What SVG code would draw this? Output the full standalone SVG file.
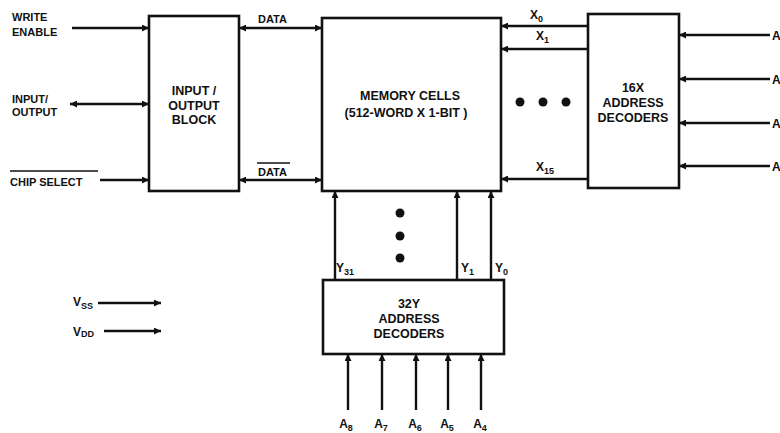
<svg xmlns="http://www.w3.org/2000/svg" width="780" height="433" viewBox="0 0 780 433">
<style>
.box{fill:#fff;stroke:#111;stroke-width:2.6}
.w{stroke:#111;stroke-width:2.4;fill:none}
.t{font-family:"Liberation Sans",Arial,sans-serif;font-weight:bold;font-size:11px;fill:#111}
.b{font-size:12.5px}
.m{font-size:12px}
.c{text-anchor:middle}
.s{font-size:9px}
.dot{fill:#111}
</style>
<defs>
<marker id="ah" viewBox="0 0 10 10" refX="10" refY="5" markerWidth="9" markerHeight="7" markerUnits="userSpaceOnUse" orient="auto-start-reverse">
<path d="M0,0 L10,5 L0,10 z" fill="#111"/>
</marker>
</defs>
<rect width="780" height="433" fill="#fff"/>

<g id="io-block">
<rect class="box" x="149" y="16" width="90" height="175"/>
<text class="t b c" x="194" y="95">INPUT /</text>
<text class="t b c" x="194" y="110">OUTPUT</text>
<text class="t b c" x="194" y="124">BLOCK</text>
</g>

<g id="memory-cells">
<rect class="box" x="322" y="18" width="179" height="173"/>
<text class="t b c" x="410" y="100">MEMORY  CELLS</text>
<text class="t b c" x="406" y="117">(512-WORD X 1-BIT )</text>
</g>

<g id="x-decoders">
<rect class="box" x="588" y="14" width="91" height="174"/>
<text class="t b c" x="633" y="92">16X</text>
<text class="t b c" x="633" y="107">ADDRESS</text>
<text class="t b c" x="633" y="122">DECODERS</text>
</g>

<g id="y-decoders">
<rect class="box" x="323" y="280" width="181" height="74"/>
<text class="t b c" x="409" y="308">32Y</text>
<text class="t b c" x="409" y="323">ADDRESS</text>
<text class="t b c" x="409" y="338">DECODERS</text>
</g>

<g id="labels">
<text class="t" x="12" y="21">WRITE</text>
<text class="t" x="12" y="36">ENABLE</text>
<text class="t" x="12" y="103">INPUT/</text>
<text class="t" x="12" y="116">OUTPUT</text>
<text class="t" x="10" y="186">CHIP SELECT</text>
<line x1="10" y1="171" x2="98" y2="171" stroke="#111" stroke-width="1.4"/>
<text class="t" x="258" y="23">DATA</text>
<text class="t" x="258" y="176">DATA</text>
<line x1="257" y1="163" x2="290" y2="163" stroke="#111" stroke-width="1.3"/>
<text class="t m" x="530" y="19">X<tspan class="s" dy="3">0</tspan></text>
<text class="t m" x="536" y="40">X<tspan class="s" dy="3">1</tspan></text>
<text class="t m" x="536" y="171">X<tspan class="s" dy="3">15</tspan></text>
<text class="t m" x="336" y="272">Y<tspan class="s" dy="3">31</tspan></text>
<text class="t m" x="461" y="272">Y<tspan class="s" dy="3">1</tspan></text>
<text class="t m" x="495" y="272">Y<tspan class="s" dy="3">0</tspan></text>
<text class="t m" x="772" y="40">A</text>
<text class="t m" x="772" y="84">A</text>
<text class="t m" x="772" y="128">A</text>
<text class="t m" x="772" y="171">A</text>
<text class="t m c" x="346" y="428">A<tspan class="s" dy="3">8</tspan></text>
<text class="t m c" x="381" y="428">A<tspan class="s" dy="3">7</tspan></text>
<text class="t m c" x="415" y="428">A<tspan class="s" dy="3">6</tspan></text>
<text class="t m c" x="447" y="428">A<tspan class="s" dy="3">5</tspan></text>
<text class="t m c" x="480" y="428">A<tspan class="s" dy="3">4</tspan></text>
<text class="t m" x="73" y="306">V<tspan class="s" dy="3">SS</tspan></text>
<text class="t m" x="73" y="336">V<tspan class="s" dy="1">DD</tspan></text>
</g>

<g id="dots">
<circle class="dot" cx="520" cy="102" r="4.5"/>
<circle class="dot" cx="543" cy="102" r="4.5"/>
<circle class="dot" cx="566" cy="102" r="4.5"/>
<circle class="dot" cx="400" cy="213" r="4.5"/>
<circle class="dot" cx="400" cy="236" r="4.5"/>
<circle class="dot" cx="400" cy="258" r="4.5"/>
</g>

<g id="connectors">
<line class="w" x1="72" y1="28" x2="149" y2="28" marker-end="url(#ah)"/>
<line class="w" x1="70" y1="104" x2="149" y2="104" marker-start="url(#ah)" marker-end="url(#ah)"/>
<line class="w" x1="100" y1="180" x2="149" y2="180" marker-end="url(#ah)"/>
<line class="w" x1="239" y1="28" x2="322" y2="28" marker-start="url(#ah)" marker-end="url(#ah)"/>
<line class="w" x1="239" y1="180" x2="322" y2="180" marker-start="url(#ah)" marker-end="url(#ah)"/>
<line class="w" x1="588" y1="26" x2="501" y2="26" marker-end="url(#ah)"/>
<line class="w" x1="588" y1="49" x2="501" y2="49" marker-end="url(#ah)"/>
<line class="w" x1="588" y1="179" x2="501" y2="179" marker-end="url(#ah)"/>
<line class="w" x1="770" y1="35" x2="679" y2="35" marker-end="url(#ah)"/>
<line class="w" x1="770" y1="79" x2="679" y2="79" marker-end="url(#ah)"/>
<line class="w" x1="770" y1="123" x2="679" y2="123" marker-end="url(#ah)"/>
<line class="w" x1="770" y1="166" x2="679" y2="166" marker-end="url(#ah)"/>
<line class="w" x1="335" y1="280" x2="335" y2="191" marker-end="url(#ah)"/>
<line class="w" x1="457" y1="280" x2="457" y2="191" marker-end="url(#ah)"/>
<line class="w" x1="491" y1="280" x2="491" y2="191" marker-end="url(#ah)"/>
<line class="w" x1="348" y1="410" x2="348" y2="354" marker-end="url(#ah)"/>
<line class="w" x1="382" y1="410" x2="382" y2="354" marker-end="url(#ah)"/>
<line class="w" x1="416" y1="410" x2="416" y2="354" marker-end="url(#ah)"/>
<line class="w" x1="448" y1="410" x2="448" y2="354" marker-end="url(#ah)"/>
<line class="w" x1="481" y1="410" x2="481" y2="354" marker-end="url(#ah)"/>
<line class="w" x1="98" y1="303" x2="161" y2="303" marker-end="url(#ah)"/>
<line class="w" x1="104" y1="331" x2="161" y2="331" marker-end="url(#ah)"/>
</g>
</svg>
